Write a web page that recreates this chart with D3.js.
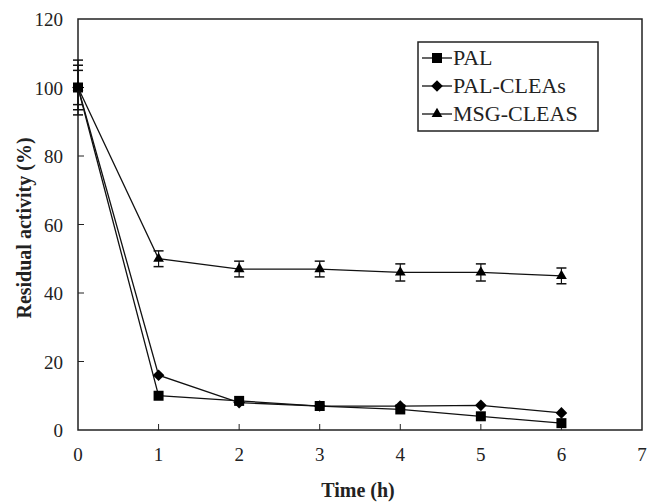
<!DOCTYPE html>
<html><head><meta charset="utf-8">
<script src="https://cdn.jsdelivr.net/npm/d3@7"></script>
<style>body{margin:0;background:#fff}svg{display:block}</style>
</head><body><svg id="c" width="652" height="503"></svg>
<script>
const times = [0, 1, 2, 3, 4, 5, 6];
const palValues = [100, 10, 8.5, 7, 6, 4, 2];
const palErr = [6.5, 0, 0, 0, 0, 0, 0];
const palCleasValues = [100, 16, 8, 7, 7, 7.2, 5];
const palCleasErr = [5, 0, 0, 0, 0, 0, 0];
const msgCleasValues = [100, 50, 47, 47, 46, 46, 45];
const msgCleasErr = [8, 2.3, 2.3, 2.3, 2.5, 2.5, 2.3];
const seriesNames = ["PAL", "PAL-CLEAs", "MSG-CLEAS"];
const xTicks = [0, 1, 2, 3, 4, 5, 6, 7];
const yTicks = [0, 20, 40, 60, 80, 100, 120];

const svg = d3.select("#c");
const L = 78, R = 642, T = 19, B = 430;
const x = d3.scaleLinear().domain([0, 7]).range([L, R]);
const y = d3.scaleLinear().domain([0, 120]).range([B, T]);
const font = "'Liberation Serif','Times New Roman',serif";

// frame
svg.append("rect").attr("x", L).attr("y", T).attr("width", R - L).attr("height", B - T)
  .attr("fill", "none").attr("stroke", "#222").attr("stroke-width", 1.5);

// inner ticks
svg.append("g").selectAll("line").data(xTicks.slice(1, -1)).join("line")
  .attr("x1", d => x(d)).attr("x2", d => x(d)).attr("y1", B).attr("y2", B - 6)
  .attr("stroke", "#222");
svg.append("g").selectAll("line").data(yTicks.slice(1, -1)).join("line")
  .attr("x1", L).attr("x2", L + 6).attr("y1", d => y(d)).attr("y2", d => y(d))
  .attr("stroke", "#222");

// tick labels
svg.append("g").selectAll("text").data(xTicks).join("text")
  .attr("x", d => x(d)).attr("y", B + 31).attr("text-anchor", "middle")
  .attr("font-family", font).attr("font-size", 19).attr("fill", "#222").text(d => d);
svg.append("g").selectAll("text").data(yTicks).join("text")
  .attr("x", L - 15).attr("y", d => y(d) + 7).attr("text-anchor", "end")
  .attr("font-family", font).attr("font-size", 19).attr("fill", "#222").text(d => d);

// axis titles
svg.append("text").attr("x", 358).attr("y", 497).attr("text-anchor", "middle")
  .attr("font-family", font).attr("font-size", 20).attr("font-weight", "bold").attr("fill", "#222")
  .text("Time (h)");
svg.append("text").attr("transform", "translate(31,228) rotate(-90)")
  .attr("text-anchor", "middle")
  .attr("font-family", font).attr("font-size", 20).attr("font-weight", "bold").attr("fill", "#222")
  .text("Residual activity (%)");

const diamond = {draw(ctx, size) { const r = Math.sqrt(size) / 2 * 1.3; ctx.moveTo(0, -r); ctx.lineTo(r, 0); ctx.lineTo(0, r); ctx.lineTo(-r, 0); ctx.closePath(); }};
const series = [
  {name: seriesNames[0], vals: palValues, err: palErr, shape: d3.symbolSquare, size: 100},
  {name: seriesNames[1], vals: palCleasValues, err: palCleasErr, shape: diamond, size: 80},
  {name: seriesNames[2], vals: msgCleasValues, err: msgCleasErr, shape: d3.symbolTriangle, size: 50}
];

const line = d3.line().x((d, i) => x(times[i])).y(d => y(d));
series.forEach(s => {
  const g = svg.append("g");
  g.append("path").attr("d", line(s.vals)).attr("fill", "none").attr("stroke", "#111").attr("stroke-width", 1.3);
  const eb = times.map((t, i) => ({t, v: s.vals[i], e: s.err[i]})).filter(d => d.e > 0);
  eb.forEach(d => {
    g.append("line").attr("x1", x(d.t)).attr("x2", x(d.t)).attr("y1", y(d.v + d.e)).attr("y2", y(d.v - d.e))
      .attr("stroke", "#111").attr("stroke-width", 1.2);
    [d.v + d.e, d.v - d.e].forEach(v => {
      g.append("line").attr("x1", x(d.t) - 5).attr("x2", x(d.t) + 5).attr("y1", y(v)).attr("y2", y(v))
        .attr("stroke", "#111").attr("stroke-width", 1.5);
    });
  });
  g.selectAll("path.m").data(s.vals).join("path").attr("class", "m")
    .attr("transform", (d, i) => "translate(" + x(times[i]) + "," + y(d) + ")")
    .attr("d", d3.symbol().type(s.shape).size(s.size)).attr("fill", "#000");
});

// legend
const lg = svg.append("g");
lg.append("rect").attr("x", 418).attr("y", 42).attr("width", 180).attr("height", 89)
  .attr("fill", "#fff").attr("stroke", "#222").attr("stroke-width", 1.5);
series.forEach((s, i) => {
  const cy = 58 + i * 28;
  lg.append("line").attr("x1", 422).attr("x2", 452).attr("y1", cy).attr("y2", cy).attr("stroke", "#111").attr("stroke-width", 1.3);
  lg.append("path").attr("transform", "translate(437," + cy + ")")
    .attr("d", d3.symbol().type(s.shape).size(s.size)).attr("fill", "#000");
  lg.append("text").attr("x", 453).attr("y", cy + 7).attr("font-family", font).attr("font-size", 22)
    .attr("fill", "#222").text(s.name);
});
</script></body></html>
